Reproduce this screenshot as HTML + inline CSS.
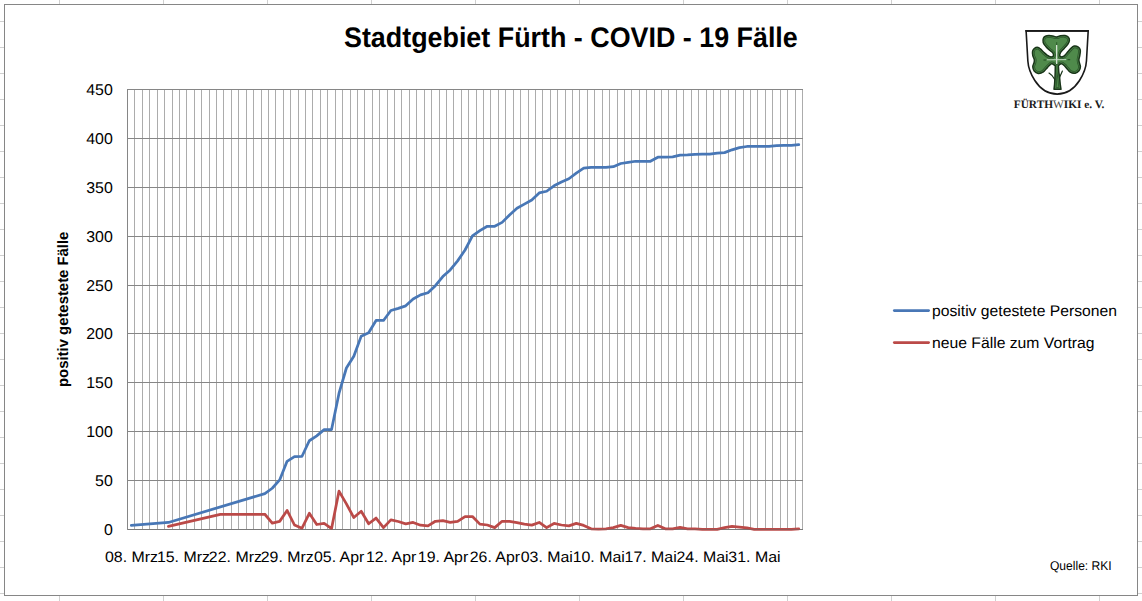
<!DOCTYPE html>
<html><head><meta charset="utf-8"><style>
html,body{margin:0;padding:0;background:#fff;}
body{width:1142px;height:601px;overflow:hidden;position:relative;font-family:"Liberation Sans",sans-serif;}
svg{position:absolute;left:0;top:0;}
</style></head><body>
<svg width="1142" height="601" viewBox="0 0 1142 601" font-family="'Liberation Sans', sans-serif" text-rendering="geometricPrecision">
<g stroke="#d0d0d0" stroke-width="1"><line x1="59.5" y1="0" x2="59.5" y2="601" /><line x1="163.5" y1="0" x2="163.5" y2="601" /><line x1="267.5" y1="0" x2="267.5" y2="601" /><line x1="371.5" y1="0" x2="371.5" y2="601" /><line x1="475.5" y1="0" x2="475.5" y2="601" /><line x1="579.5" y1="0" x2="579.5" y2="601" /><line x1="683.5" y1="0" x2="683.5" y2="601" /><line x1="787.5" y1="0" x2="787.5" y2="601" /><line x1="891.5" y1="0" x2="891.5" y2="601" /><line x1="995.5" y1="0" x2="995.5" y2="601" /><line x1="1099.5" y1="0" x2="1099.5" y2="601" /><line x1="0" y1="21.5" x2="1142" y2="21.5" /><line x1="0" y1="47.5" x2="1142" y2="47.5" /><line x1="0" y1="73.5" x2="1142" y2="73.5" /><line x1="0" y1="99.5" x2="1142" y2="99.5" /><line x1="0" y1="125.5" x2="1142" y2="125.5" /><line x1="0" y1="151.5" x2="1142" y2="151.5" /><line x1="0" y1="177.5" x2="1142" y2="177.5" /><line x1="0" y1="203.5" x2="1142" y2="203.5" /><line x1="0" y1="229.5" x2="1142" y2="229.5" /><line x1="0" y1="255.5" x2="1142" y2="255.5" /><line x1="0" y1="281.5" x2="1142" y2="281.5" /><line x1="0" y1="307.5" x2="1142" y2="307.5" /><line x1="0" y1="333.5" x2="1142" y2="333.5" /><line x1="0" y1="359.5" x2="1142" y2="359.5" /><line x1="0" y1="385.5" x2="1142" y2="385.5" /><line x1="0" y1="411.5" x2="1142" y2="411.5" /><line x1="0" y1="437.5" x2="1142" y2="437.5" /><line x1="0" y1="463.5" x2="1142" y2="463.5" /><line x1="0" y1="489.5" x2="1142" y2="489.5" /><line x1="0" y1="515.5" x2="1142" y2="515.5" /><line x1="0" y1="541.5" x2="1142" y2="541.5" /><line x1="0" y1="567.5" x2="1142" y2="567.5" /><line x1="0" y1="593.5" x2="1142" y2="593.5" /></g>
<rect x="4.5" y="4.5" width="1133" height="591" fill="#fff" stroke="#868686" stroke-width="1"/>
<g stroke="#acacac" stroke-width="1"><line x1="134.5" y1="89" x2="134.5" y2="530" /><line x1="142.5" y1="89" x2="142.5" y2="530" /><line x1="149.5" y1="89" x2="149.5" y2="530" /><line x1="157.5" y1="89" x2="157.5" y2="530" /><line x1="164.5" y1="89" x2="164.5" y2="530" /><line x1="172.5" y1="89" x2="172.5" y2="530" /><line x1="179.5" y1="89" x2="179.5" y2="530" /><line x1="186.5" y1="89" x2="186.5" y2="530" /><line x1="194.5" y1="89" x2="194.5" y2="530" /><line x1="201.5" y1="89" x2="201.5" y2="530" /><line x1="209.5" y1="89" x2="209.5" y2="530" /><line x1="216.5" y1="89" x2="216.5" y2="530" /><line x1="223.5" y1="89" x2="223.5" y2="530" /><line x1="231.5" y1="89" x2="231.5" y2="530" /><line x1="238.5" y1="89" x2="238.5" y2="530" /><line x1="246.5" y1="89" x2="246.5" y2="530" /><line x1="253.5" y1="89" x2="253.5" y2="530" /><line x1="261.5" y1="89" x2="261.5" y2="530" /><line x1="268.5" y1="89" x2="268.5" y2="530" /><line x1="275.5" y1="89" x2="275.5" y2="530" /><line x1="283.5" y1="89" x2="283.5" y2="530" /><line x1="290.5" y1="89" x2="290.5" y2="530" /><line x1="298.5" y1="89" x2="298.5" y2="530" /><line x1="305.5" y1="89" x2="305.5" y2="530" /><line x1="312.5" y1="89" x2="312.5" y2="530" /><line x1="320.5" y1="89" x2="320.5" y2="530" /><line x1="327.5" y1="89" x2="327.5" y2="530" /><line x1="335.5" y1="89" x2="335.5" y2="530" /><line x1="342.5" y1="89" x2="342.5" y2="530" /><line x1="350.5" y1="89" x2="350.5" y2="530" /><line x1="357.5" y1="89" x2="357.5" y2="530" /><line x1="364.5" y1="89" x2="364.5" y2="530" /><line x1="372.5" y1="89" x2="372.5" y2="530" /><line x1="379.5" y1="89" x2="379.5" y2="530" /><line x1="387.5" y1="89" x2="387.5" y2="530" /><line x1="394.5" y1="89" x2="394.5" y2="530" /><line x1="401.5" y1="89" x2="401.5" y2="530" /><line x1="409.5" y1="89" x2="409.5" y2="530" /><line x1="416.5" y1="89" x2="416.5" y2="530" /><line x1="424.5" y1="89" x2="424.5" y2="530" /><line x1="431.5" y1="89" x2="431.5" y2="530" /><line x1="439.5" y1="89" x2="439.5" y2="530" /><line x1="446.5" y1="89" x2="446.5" y2="530" /><line x1="453.5" y1="89" x2="453.5" y2="530" /><line x1="461.5" y1="89" x2="461.5" y2="530" /><line x1="468.5" y1="89" x2="468.5" y2="530" /><line x1="476.5" y1="89" x2="476.5" y2="530" /><line x1="483.5" y1="89" x2="483.5" y2="530" /><line x1="490.5" y1="89" x2="490.5" y2="530" /><line x1="498.5" y1="89" x2="498.5" y2="530" /><line x1="505.5" y1="89" x2="505.5" y2="530" /><line x1="513.5" y1="89" x2="513.5" y2="530" /><line x1="520.5" y1="89" x2="520.5" y2="530" /><line x1="528.5" y1="89" x2="528.5" y2="530" /><line x1="535.5" y1="89" x2="535.5" y2="530" /><line x1="542.5" y1="89" x2="542.5" y2="530" /><line x1="550.5" y1="89" x2="550.5" y2="530" /><line x1="557.5" y1="89" x2="557.5" y2="530" /><line x1="565.5" y1="89" x2="565.5" y2="530" /><line x1="572.5" y1="89" x2="572.5" y2="530" /><line x1="579.5" y1="89" x2="579.5" y2="530" /><line x1="587.5" y1="89" x2="587.5" y2="530" /><line x1="594.5" y1="89" x2="594.5" y2="530" /><line x1="602.5" y1="89" x2="602.5" y2="530" /><line x1="609.5" y1="89" x2="609.5" y2="530" /><line x1="617.5" y1="89" x2="617.5" y2="530" /><line x1="624.5" y1="89" x2="624.5" y2="530" /><line x1="631.5" y1="89" x2="631.5" y2="530" /><line x1="639.5" y1="89" x2="639.5" y2="530" /><line x1="646.5" y1="89" x2="646.5" y2="530" /><line x1="654.5" y1="89" x2="654.5" y2="530" /><line x1="661.5" y1="89" x2="661.5" y2="530" /><line x1="668.5" y1="89" x2="668.5" y2="530" /><line x1="676.5" y1="89" x2="676.5" y2="530" /><line x1="683.5" y1="89" x2="683.5" y2="530" /><line x1="691.5" y1="89" x2="691.5" y2="530" /><line x1="698.5" y1="89" x2="698.5" y2="530" /><line x1="706.5" y1="89" x2="706.5" y2="530" /><line x1="713.5" y1="89" x2="713.5" y2="530" /><line x1="720.5" y1="89" x2="720.5" y2="530" /><line x1="728.5" y1="89" x2="728.5" y2="530" /><line x1="735.5" y1="89" x2="735.5" y2="530" /><line x1="743.5" y1="89" x2="743.5" y2="530" /><line x1="750.5" y1="89" x2="750.5" y2="530" /><line x1="757.5" y1="89" x2="757.5" y2="530" /><line x1="765.5" y1="89" x2="765.5" y2="530" /><line x1="772.5" y1="89" x2="772.5" y2="530" /><line x1="780.5" y1="89" x2="780.5" y2="530" /><line x1="787.5" y1="89" x2="787.5" y2="530" /><line x1="795.5" y1="89" x2="795.5" y2="530" /><line x1="802.5" y1="89" x2="802.5" y2="530" /></g>
<g stroke="#868686" stroke-width="1"><line x1="127" y1="480.5" x2="803" y2="480.5" /><line x1="127" y1="431.5" x2="803" y2="431.5" /><line x1="127" y1="382.5" x2="803" y2="382.5" /><line x1="127" y1="333.5" x2="803" y2="333.5" /><line x1="127" y1="285.5" x2="803" y2="285.5" /><line x1="127" y1="236.5" x2="803" y2="236.5" /><line x1="127" y1="187.5" x2="803" y2="187.5" /><line x1="127" y1="138.5" x2="803" y2="138.5" /><line x1="127" y1="89.5" x2="803" y2="89.5" /></g>
<path d="M127.5 89 V529.5 H803" fill="none" stroke="#868686" stroke-width="1"/>
<polyline points="131.35,525.39 168.43,522.46 264.83,493.62 272.24,488.24 279.66,479.93 287.08,461.36 294.49,456.67 301.91,456.47 309.32,440.73 316.74,435.85 324.15,429.59 331.57,429.59 338.98,393.42 346.40,368.00 353.81,356.27 361.23,336.14 368.65,332.81 376.06,320.49 383.48,320.49 390.89,310.52 398.31,308.37 405.72,305.83 413.14,298.99 420.55,294.88 427.97,292.73 435.39,285.69 442.80,276.60 450.22,269.95 457.63,260.86 465.05,250.01 472.46,235.84 479.88,230.66 487.29,226.26 494.71,226.26 502.12,222.35 509.54,214.92 516.96,208.27 524.37,204.17 531.79,199.96 539.20,192.92 546.62,191.26 554.03,185.79 561.45,182.07 568.86,178.75 576.28,173.08 583.70,168.19 591.11,167.31 598.53,167.31 605.94,167.31 613.36,166.72 620.77,163.50 628.19,162.42 635.60,161.25 643.02,161.25 650.44,161.25 657.85,157.24 665.27,157.05 672.68,156.85 680.10,155.09 687.51,154.90 694.93,154.31 702.34,154.11 709.76,154.11 717.17,153.14 724.59,152.65 732.01,149.81 739.42,147.56 746.84,146.49 754.25,146.49 761.67,146.49 769.08,146.29 776.50,145.51 783.91,145.32 791.33,145.32 798.75,144.73" fill="none" stroke="#4877b6" stroke-width="2.75" stroke-linejoin="round" stroke-linecap="round"/>
<polyline points="168.43,526.37 220.34,514.34 264.83,514.25 272.24,523.14 279.66,521.38 287.08,510.43 294.49,525.00 301.91,528.32 309.32,513.27 316.74,524.51 324.15,523.43 331.57,528.52 338.98,491.18 346.40,503.88 353.81,517.57 361.23,511.31 368.65,523.73 376.06,518.06 383.48,527.64 390.89,519.92 398.31,521.48 405.72,523.83 413.14,522.46 420.55,525.19 427.97,525.88 435.39,521.28 442.80,520.60 450.22,522.36 457.63,521.38 465.05,516.59 472.46,516.59 479.88,524.12 487.29,525.00 494.71,527.64 502.12,521.28 509.54,521.48 516.96,522.55 524.37,524.12 531.79,525.10 539.20,522.46 546.62,527.64 554.03,523.43 561.45,525.00 568.86,525.88 576.28,523.34 583.70,525.39 591.11,528.81 598.53,529.01 605.94,528.81 613.36,527.64 620.77,525.39 628.19,527.64 635.60,528.32 643.02,528.81 650.44,528.81 657.85,525.39 665.27,528.81 672.68,528.81 680.10,527.34 687.51,528.81 694.93,528.81 702.34,529.30 709.76,529.30 717.17,529.30 724.59,527.64 732.01,526.37 739.42,527.05 746.84,527.83 754.25,529.30 761.67,529.30 769.08,529.30 776.50,529.30 783.91,529.30 791.33,529.30 798.75,528.81" fill="none" stroke="#bb4a48" stroke-width="2.75" stroke-linejoin="round" stroke-linecap="round"/>
<line x1="127" y1="529.5" x2="803" y2="529.5" stroke="#6a6a6a" stroke-width="1" opacity="0.45"/>
<line x1="894.3" y1="310.6" x2="928.6" y2="310.6" stroke="#4877b6" stroke-width="2.75" stroke-linecap="round"/>
<line x1="894.3" y1="342.6" x2="928.6" y2="342.6" stroke="#bb4a48" stroke-width="2.75" stroke-linecap="round"/>
<g fill="#000"><text x="343.99" y="46.80" font-family='"Liberation Sans", sans-serif' font-weight="bold" font-size="28.30" textLength="453.77" lengthAdjust="spacingAndGlyphs" >Stadtgebiet Fürth - COVID - 19 Fälle</text>
<text x="103.93" y="535.00" font-size="15.60" textLength="8.85" lengthAdjust="spacingAndGlyphs">0</text>
<text x="95.09" y="486.00" font-size="15.60" textLength="17.70" lengthAdjust="spacingAndGlyphs">50</text>
<text x="86.26" y="437.00" font-size="15.60" textLength="26.55" lengthAdjust="spacingAndGlyphs">100</text>
<text x="86.26" y="388.00" font-size="15.60" textLength="26.55" lengthAdjust="spacingAndGlyphs">150</text>
<text x="86.26" y="339.00" font-size="15.60" textLength="26.55" lengthAdjust="spacingAndGlyphs">200</text>
<text x="86.26" y="291.00" font-size="15.60" textLength="26.55" lengthAdjust="spacingAndGlyphs">250</text>
<text x="86.26" y="242.00" font-size="15.60" textLength="26.55" lengthAdjust="spacingAndGlyphs">300</text>
<text x="86.26" y="193.00" font-size="15.60" textLength="26.55" lengthAdjust="spacingAndGlyphs">350</text>
<text x="86.26" y="144.00" font-size="15.60" textLength="26.55" lengthAdjust="spacingAndGlyphs">400</text>
<text x="86.26" y="95.00" font-size="15.60" textLength="26.55" lengthAdjust="spacingAndGlyphs">450</text>
<text x="105.04" y="562.00" font-family='"Liberation Sans", sans-serif' font-weight="normal" font-size="15.10" textLength="53.02" lengthAdjust="spacingAndGlyphs" >08. Mrz</text>
<text x="156.95" y="562.00" font-family='"Liberation Sans", sans-serif' font-weight="normal" font-size="15.10" textLength="53.02" lengthAdjust="spacingAndGlyphs" >15. Mrz</text>
<text x="208.86" y="562.00" font-family='"Liberation Sans", sans-serif' font-weight="normal" font-size="15.10" textLength="53.02" lengthAdjust="spacingAndGlyphs" >22. Mrz</text>
<text x="260.77" y="562.00" font-family='"Liberation Sans", sans-serif' font-weight="normal" font-size="15.10" textLength="53.02" lengthAdjust="spacingAndGlyphs" >29. Mrz</text>
<text x="313.99" y="562.00" font-family='"Liberation Sans", sans-serif' font-weight="normal" font-size="15.10" textLength="50.39" lengthAdjust="spacingAndGlyphs" >05. Apr</text>
<text x="365.90" y="562.00" font-family='"Liberation Sans", sans-serif' font-weight="normal" font-size="15.10" textLength="50.39" lengthAdjust="spacingAndGlyphs" >12. Apr</text>
<text x="417.80" y="562.00" font-family='"Liberation Sans", sans-serif' font-weight="normal" font-size="15.10" textLength="50.39" lengthAdjust="spacingAndGlyphs" >19. Apr</text>
<text x="469.71" y="562.00" font-family='"Liberation Sans", sans-serif' font-weight="normal" font-size="15.10" textLength="50.39" lengthAdjust="spacingAndGlyphs" >26. Apr</text>
<text x="520.74" y="562.00" font-family='"Liberation Sans", sans-serif' font-weight="normal" font-size="15.10" textLength="52.15" lengthAdjust="spacingAndGlyphs" >03. Mai</text>
<text x="572.65" y="562.00" font-family='"Liberation Sans", sans-serif' font-weight="normal" font-size="15.10" textLength="52.15" lengthAdjust="spacingAndGlyphs" >10. Mai</text>
<text x="624.56" y="562.00" font-family='"Liberation Sans", sans-serif' font-weight="normal" font-size="15.10" textLength="52.15" lengthAdjust="spacingAndGlyphs" >17. Mai</text>
<text x="676.47" y="562.00" font-family='"Liberation Sans", sans-serif' font-weight="normal" font-size="15.10" textLength="52.15" lengthAdjust="spacingAndGlyphs" >24. Mai</text>
<text x="728.38" y="562.00" font-family='"Liberation Sans", sans-serif' font-weight="normal" font-size="15.10" textLength="52.15" lengthAdjust="spacingAndGlyphs" >31. Mai</text>
<text x="931.98" y="315.80" font-family='"Liberation Sans", sans-serif' font-weight="normal" font-size="15.40" textLength="185.05" lengthAdjust="spacingAndGlyphs" >positiv getestete Personen</text>
<text x="931.98" y="347.80" font-family='"Liberation Sans", sans-serif' font-weight="normal" font-size="15.40" textLength="162.53" lengthAdjust="spacingAndGlyphs" >neue Fälle zum Vortrag</text>
<text x="1049.96" y="569.60" font-family='"Liberation Sans", sans-serif' font-weight="normal" font-size="12.70" textLength="61.77" lengthAdjust="spacingAndGlyphs" >Quelle: RKI</text>
<text transform="translate(68 386.97) rotate(-90)" x="0" y="0" font-weight="bold" font-size="15.00" textLength="155.33" lengthAdjust="spacingAndGlyphs">positiv getestete Fälle</text></g>
<g id="logo">
<path d="M1026.1 30.9 L1088.2 30.9 L1086.45 61 C1085.99 69 1078.1 94.1 1057.2 94.1 C1036.2 94.1 1028.31 69 1027.85 61 Z" fill="#fff" stroke="#1a1a1a" stroke-width="1.6" stroke-linejoin="miter"/>
<line x1="1025.4" y1="30.9" x2="1088.9" y2="30.9" stroke="#1a1a1a" stroke-width="1.9"/>
<defs><clipPath id="cl"><path d="M1053.20 56.30 C1053.68 55.64 1053.43 53.88 1052.84 52.88 C1052.25 51.88 1050.81 51.35 1049.64 50.28 C1048.47 49.21 1046.91 47.78 1045.84 46.48 C1044.77 45.18 1043.61 43.86 1043.20 42.50 C1042.79 41.14 1043.03 39.35 1043.40 38.30 C1043.77 37.25 1044.43 36.65 1045.40 36.20 C1046.37 35.75 1047.82 35.58 1049.20 35.60 C1050.58 35.62 1052.47 36.08 1053.70 36.30 C1054.93 36.52 1055.47 37.00 1056.60 36.90 C1057.73 36.80 1059.10 35.93 1060.50 35.70 C1061.90 35.47 1063.68 35.23 1065.00 35.50 C1066.32 35.77 1067.67 36.47 1068.40 37.30 C1069.13 38.13 1069.51 39.34 1069.40 40.50 C1069.29 41.66 1068.67 42.92 1067.76 44.28 C1066.85 45.64 1065.18 47.28 1063.96 48.68 C1062.74 50.08 1061.12 51.41 1060.46 52.68 C1059.80 53.95 1059.54 55.66 1060.00 56.30 C1060.46 56.94 1062.13 57.02 1063.24 56.52 C1064.35 56.02 1065.36 54.69 1066.64 53.32 C1067.92 51.95 1069.70 49.52 1070.94 48.32 C1072.18 47.12 1072.92 46.34 1074.10 46.10 C1075.28 45.86 1076.97 46.23 1078.00 46.90 C1079.03 47.57 1080.00 48.68 1080.30 50.10 C1080.60 51.52 1080.03 53.83 1079.80 55.40 C1079.57 56.97 1078.98 58.32 1078.90 59.50 C1078.82 60.68 1079.05 61.32 1079.30 62.50 C1079.55 63.68 1080.45 65.22 1080.40 66.60 C1080.35 67.98 1079.87 69.70 1079.00 70.80 C1078.13 71.90 1076.67 72.97 1075.20 73.20 C1073.73 73.43 1071.60 72.98 1070.20 72.20 C1068.80 71.42 1067.80 69.62 1066.80 68.50 C1065.80 67.38 1065.13 66.28 1064.20 65.50 C1063.27 64.72 1062.17 63.75 1061.20 63.80 C1060.23 63.85 1058.40 65.80 1058.40 65.80 L1058.80 72.00 L1059.60 77.40 L1060.20 84.00 L1061.00 89.30 L1054.00 89.30 L1054.60 84.00 L1054.90 79.00 L1055.20 72.00 L1055.30 65.80 C1055.30 65.80 1052.85 63.80 1051.80 63.80 C1050.75 63.80 1049.88 65.02 1049.00 65.80 C1048.12 66.58 1047.50 67.43 1046.50 68.50 C1045.50 69.57 1044.38 71.38 1043.00 72.20 C1041.62 73.02 1039.67 73.60 1038.20 73.40 C1036.73 73.20 1035.10 72.13 1034.20 71.00 C1033.30 69.87 1032.82 68.02 1032.80 66.60 C1032.78 65.18 1033.85 63.68 1034.10 62.50 C1034.35 61.32 1034.52 60.65 1034.30 59.50 C1034.08 58.35 1033.08 56.98 1032.80 55.60 C1032.52 54.22 1032.32 52.42 1032.60 51.20 C1032.88 49.98 1033.62 48.93 1034.50 48.30 C1035.38 47.67 1036.92 47.30 1037.90 47.40 C1038.88 47.50 1039.33 48.07 1040.36 48.92 C1041.39 49.77 1042.94 51.49 1044.06 52.52 C1045.18 53.55 1046.08 54.40 1047.06 55.12 C1048.04 55.84 1048.94 56.62 1049.96 56.82 C1050.98 57.02 1052.72 56.96 1053.20 56.30 Z"/></clipPath></defs><path d="M1053.20 56.30 C1053.68 55.64 1053.43 53.88 1052.84 52.88 C1052.25 51.88 1050.81 51.35 1049.64 50.28 C1048.47 49.21 1046.91 47.78 1045.84 46.48 C1044.77 45.18 1043.61 43.86 1043.20 42.50 C1042.79 41.14 1043.03 39.35 1043.40 38.30 C1043.77 37.25 1044.43 36.65 1045.40 36.20 C1046.37 35.75 1047.82 35.58 1049.20 35.60 C1050.58 35.62 1052.47 36.08 1053.70 36.30 C1054.93 36.52 1055.47 37.00 1056.60 36.90 C1057.73 36.80 1059.10 35.93 1060.50 35.70 C1061.90 35.47 1063.68 35.23 1065.00 35.50 C1066.32 35.77 1067.67 36.47 1068.40 37.30 C1069.13 38.13 1069.51 39.34 1069.40 40.50 C1069.29 41.66 1068.67 42.92 1067.76 44.28 C1066.85 45.64 1065.18 47.28 1063.96 48.68 C1062.74 50.08 1061.12 51.41 1060.46 52.68 C1059.80 53.95 1059.54 55.66 1060.00 56.30 C1060.46 56.94 1062.13 57.02 1063.24 56.52 C1064.35 56.02 1065.36 54.69 1066.64 53.32 C1067.92 51.95 1069.70 49.52 1070.94 48.32 C1072.18 47.12 1072.92 46.34 1074.10 46.10 C1075.28 45.86 1076.97 46.23 1078.00 46.90 C1079.03 47.57 1080.00 48.68 1080.30 50.10 C1080.60 51.52 1080.03 53.83 1079.80 55.40 C1079.57 56.97 1078.98 58.32 1078.90 59.50 C1078.82 60.68 1079.05 61.32 1079.30 62.50 C1079.55 63.68 1080.45 65.22 1080.40 66.60 C1080.35 67.98 1079.87 69.70 1079.00 70.80 C1078.13 71.90 1076.67 72.97 1075.20 73.20 C1073.73 73.43 1071.60 72.98 1070.20 72.20 C1068.80 71.42 1067.80 69.62 1066.80 68.50 C1065.80 67.38 1065.13 66.28 1064.20 65.50 C1063.27 64.72 1062.17 63.75 1061.20 63.80 C1060.23 63.85 1058.40 65.80 1058.40 65.80 L1058.80 72.00 L1059.60 77.40 L1060.20 84.00 L1061.00 89.30 L1054.00 89.30 L1054.60 84.00 L1054.90 79.00 L1055.20 72.00 L1055.30 65.80 C1055.30 65.80 1052.85 63.80 1051.80 63.80 C1050.75 63.80 1049.88 65.02 1049.00 65.80 C1048.12 66.58 1047.50 67.43 1046.50 68.50 C1045.50 69.57 1044.38 71.38 1043.00 72.20 C1041.62 73.02 1039.67 73.60 1038.20 73.40 C1036.73 73.20 1035.10 72.13 1034.20 71.00 C1033.30 69.87 1032.82 68.02 1032.80 66.60 C1032.78 65.18 1033.85 63.68 1034.10 62.50 C1034.35 61.32 1034.52 60.65 1034.30 59.50 C1034.08 58.35 1033.08 56.98 1032.80 55.60 C1032.52 54.22 1032.32 52.42 1032.60 51.20 C1032.88 49.98 1033.62 48.93 1034.50 48.30 C1035.38 47.67 1036.92 47.30 1037.90 47.40 C1038.88 47.50 1039.33 48.07 1040.36 48.92 C1041.39 49.77 1042.94 51.49 1044.06 52.52 C1045.18 53.55 1046.08 54.40 1047.06 55.12 C1048.04 55.84 1048.94 56.62 1049.96 56.82 C1050.98 57.02 1052.72 56.96 1053.20 56.30 Z" fill="#4f8a4b"/><g clip-path="url(#cl)"><path d="M1053.20 56.30 C1053.68 55.64 1053.43 53.88 1052.84 52.88 C1052.25 51.88 1050.81 51.35 1049.64 50.28 C1048.47 49.21 1046.91 47.78 1045.84 46.48 C1044.77 45.18 1043.61 43.86 1043.20 42.50 C1042.79 41.14 1043.03 39.35 1043.40 38.30 C1043.77 37.25 1044.43 36.65 1045.40 36.20 C1046.37 35.75 1047.82 35.58 1049.20 35.60 C1050.58 35.62 1052.47 36.08 1053.70 36.30 C1054.93 36.52 1055.47 37.00 1056.60 36.90 C1057.73 36.80 1059.10 35.93 1060.50 35.70 C1061.90 35.47 1063.68 35.23 1065.00 35.50 C1066.32 35.77 1067.67 36.47 1068.40 37.30 C1069.13 38.13 1069.51 39.34 1069.40 40.50 C1069.29 41.66 1068.67 42.92 1067.76 44.28 C1066.85 45.64 1065.18 47.28 1063.96 48.68 C1062.74 50.08 1061.12 51.41 1060.46 52.68 C1059.80 53.95 1059.54 55.66 1060.00 56.30 C1060.46 56.94 1062.13 57.02 1063.24 56.52 C1064.35 56.02 1065.36 54.69 1066.64 53.32 C1067.92 51.95 1069.70 49.52 1070.94 48.32 C1072.18 47.12 1072.92 46.34 1074.10 46.10 C1075.28 45.86 1076.97 46.23 1078.00 46.90 C1079.03 47.57 1080.00 48.68 1080.30 50.10 C1080.60 51.52 1080.03 53.83 1079.80 55.40 C1079.57 56.97 1078.98 58.32 1078.90 59.50 C1078.82 60.68 1079.05 61.32 1079.30 62.50 C1079.55 63.68 1080.45 65.22 1080.40 66.60 C1080.35 67.98 1079.87 69.70 1079.00 70.80 C1078.13 71.90 1076.67 72.97 1075.20 73.20 C1073.73 73.43 1071.60 72.98 1070.20 72.20 C1068.80 71.42 1067.80 69.62 1066.80 68.50 C1065.80 67.38 1065.13 66.28 1064.20 65.50 C1063.27 64.72 1062.17 63.75 1061.20 63.80 C1060.23 63.85 1058.40 65.80 1058.40 65.80 L1058.80 72.00 L1059.60 77.40 L1060.20 84.00 L1061.00 89.30 L1054.00 89.30 L1054.60 84.00 L1054.90 79.00 L1055.20 72.00 L1055.30 65.80 C1055.30 65.80 1052.85 63.80 1051.80 63.80 C1050.75 63.80 1049.88 65.02 1049.00 65.80 C1048.12 66.58 1047.50 67.43 1046.50 68.50 C1045.50 69.57 1044.38 71.38 1043.00 72.20 C1041.62 73.02 1039.67 73.60 1038.20 73.40 C1036.73 73.20 1035.10 72.13 1034.20 71.00 C1033.30 69.87 1032.82 68.02 1032.80 66.60 C1032.78 65.18 1033.85 63.68 1034.10 62.50 C1034.35 61.32 1034.52 60.65 1034.30 59.50 C1034.08 58.35 1033.08 56.98 1032.80 55.60 C1032.52 54.22 1032.32 52.42 1032.60 51.20 C1032.88 49.98 1033.62 48.93 1034.50 48.30 C1035.38 47.67 1036.92 47.30 1037.90 47.40 C1038.88 47.50 1039.33 48.07 1040.36 48.92 C1041.39 49.77 1042.94 51.49 1044.06 52.52 C1045.18 53.55 1046.08 54.40 1047.06 55.12 C1048.04 55.84 1048.94 56.62 1049.96 56.82 C1050.98 57.02 1052.72 56.96 1053.20 56.30 Z" fill="none" stroke="#2c552c" stroke-width="4.4" stroke-linejoin="round"/><path d="M1053.20 56.30 C1053.68 55.64 1053.43 53.88 1052.84 52.88 C1052.25 51.88 1050.81 51.35 1049.64 50.28 C1048.47 49.21 1046.91 47.78 1045.84 46.48 C1044.77 45.18 1043.61 43.86 1043.20 42.50 C1042.79 41.14 1043.03 39.35 1043.40 38.30 C1043.77 37.25 1044.43 36.65 1045.40 36.20 C1046.37 35.75 1047.82 35.58 1049.20 35.60 C1050.58 35.62 1052.47 36.08 1053.70 36.30 C1054.93 36.52 1055.47 37.00 1056.60 36.90 C1057.73 36.80 1059.10 35.93 1060.50 35.70 C1061.90 35.47 1063.68 35.23 1065.00 35.50 C1066.32 35.77 1067.67 36.47 1068.40 37.30 C1069.13 38.13 1069.51 39.34 1069.40 40.50 C1069.29 41.66 1068.67 42.92 1067.76 44.28 C1066.85 45.64 1065.18 47.28 1063.96 48.68 C1062.74 50.08 1061.12 51.41 1060.46 52.68 C1059.80 53.95 1059.54 55.66 1060.00 56.30 C1060.46 56.94 1062.13 57.02 1063.24 56.52 C1064.35 56.02 1065.36 54.69 1066.64 53.32 C1067.92 51.95 1069.70 49.52 1070.94 48.32 C1072.18 47.12 1072.92 46.34 1074.10 46.10 C1075.28 45.86 1076.97 46.23 1078.00 46.90 C1079.03 47.57 1080.00 48.68 1080.30 50.10 C1080.60 51.52 1080.03 53.83 1079.80 55.40 C1079.57 56.97 1078.98 58.32 1078.90 59.50 C1078.82 60.68 1079.05 61.32 1079.30 62.50 C1079.55 63.68 1080.45 65.22 1080.40 66.60 C1080.35 67.98 1079.87 69.70 1079.00 70.80 C1078.13 71.90 1076.67 72.97 1075.20 73.20 C1073.73 73.43 1071.60 72.98 1070.20 72.20 C1068.80 71.42 1067.80 69.62 1066.80 68.50 C1065.80 67.38 1065.13 66.28 1064.20 65.50 C1063.27 64.72 1062.17 63.75 1061.20 63.80 C1060.23 63.85 1058.40 65.80 1058.40 65.80 L1058.80 72.00 L1059.60 77.40 L1060.20 84.00 L1061.00 89.30 L1054.00 89.30 L1054.60 84.00 L1054.90 79.00 L1055.20 72.00 L1055.30 65.80 C1055.30 65.80 1052.85 63.80 1051.80 63.80 C1050.75 63.80 1049.88 65.02 1049.00 65.80 C1048.12 66.58 1047.50 67.43 1046.50 68.50 C1045.50 69.57 1044.38 71.38 1043.00 72.20 C1041.62 73.02 1039.67 73.60 1038.20 73.40 C1036.73 73.20 1035.10 72.13 1034.20 71.00 C1033.30 69.87 1032.82 68.02 1032.80 66.60 C1032.78 65.18 1033.85 63.68 1034.10 62.50 C1034.35 61.32 1034.52 60.65 1034.30 59.50 C1034.08 58.35 1033.08 56.98 1032.80 55.60 C1032.52 54.22 1032.32 52.42 1032.60 51.20 C1032.88 49.98 1033.62 48.93 1034.50 48.30 C1035.38 47.67 1036.92 47.30 1037.90 47.40 C1038.88 47.50 1039.33 48.07 1040.36 48.92 C1041.39 49.77 1042.94 51.49 1044.06 52.52 C1045.18 53.55 1046.08 54.40 1047.06 55.12 C1048.04 55.84 1048.94 56.62 1049.96 56.82 C1050.98 57.02 1052.72 56.96 1053.20 56.30 Z" fill="none" stroke="#4a8446" stroke-width="2.9" stroke-linejoin="round"/></g><path d="M1053.20 56.30 C1053.68 55.64 1053.43 53.88 1052.84 52.88 C1052.25 51.88 1050.81 51.35 1049.64 50.28 C1048.47 49.21 1046.91 47.78 1045.84 46.48 C1044.77 45.18 1043.61 43.86 1043.20 42.50 C1042.79 41.14 1043.03 39.35 1043.40 38.30 C1043.77 37.25 1044.43 36.65 1045.40 36.20 C1046.37 35.75 1047.82 35.58 1049.20 35.60 C1050.58 35.62 1052.47 36.08 1053.70 36.30 C1054.93 36.52 1055.47 37.00 1056.60 36.90 C1057.73 36.80 1059.10 35.93 1060.50 35.70 C1061.90 35.47 1063.68 35.23 1065.00 35.50 C1066.32 35.77 1067.67 36.47 1068.40 37.30 C1069.13 38.13 1069.51 39.34 1069.40 40.50 C1069.29 41.66 1068.67 42.92 1067.76 44.28 C1066.85 45.64 1065.18 47.28 1063.96 48.68 C1062.74 50.08 1061.12 51.41 1060.46 52.68 C1059.80 53.95 1059.54 55.66 1060.00 56.30 C1060.46 56.94 1062.13 57.02 1063.24 56.52 C1064.35 56.02 1065.36 54.69 1066.64 53.32 C1067.92 51.95 1069.70 49.52 1070.94 48.32 C1072.18 47.12 1072.92 46.34 1074.10 46.10 C1075.28 45.86 1076.97 46.23 1078.00 46.90 C1079.03 47.57 1080.00 48.68 1080.30 50.10 C1080.60 51.52 1080.03 53.83 1079.80 55.40 C1079.57 56.97 1078.98 58.32 1078.90 59.50 C1078.82 60.68 1079.05 61.32 1079.30 62.50 C1079.55 63.68 1080.45 65.22 1080.40 66.60 C1080.35 67.98 1079.87 69.70 1079.00 70.80 C1078.13 71.90 1076.67 72.97 1075.20 73.20 C1073.73 73.43 1071.60 72.98 1070.20 72.20 C1068.80 71.42 1067.80 69.62 1066.80 68.50 C1065.80 67.38 1065.13 66.28 1064.20 65.50 C1063.27 64.72 1062.17 63.75 1061.20 63.80 C1060.23 63.85 1058.40 65.80 1058.40 65.80 L1058.80 72.00 L1059.60 77.40 L1060.20 84.00 L1061.00 89.30 L1054.00 89.30 L1054.60 84.00 L1054.90 79.00 L1055.20 72.00 L1055.30 65.80 C1055.30 65.80 1052.85 63.80 1051.80 63.80 C1050.75 63.80 1049.88 65.02 1049.00 65.80 C1048.12 66.58 1047.50 67.43 1046.50 68.50 C1045.50 69.57 1044.38 71.38 1043.00 72.20 C1041.62 73.02 1039.67 73.60 1038.20 73.40 C1036.73 73.20 1035.10 72.13 1034.20 71.00 C1033.30 69.87 1032.82 68.02 1032.80 66.60 C1032.78 65.18 1033.85 63.68 1034.10 62.50 C1034.35 61.32 1034.52 60.65 1034.30 59.50 C1034.08 58.35 1033.08 56.98 1032.80 55.60 C1032.52 54.22 1032.32 52.42 1032.60 51.20 C1032.88 49.98 1033.62 48.93 1034.50 48.30 C1035.38 47.67 1036.92 47.30 1037.90 47.40 C1038.88 47.50 1039.33 48.07 1040.36 48.92 C1041.39 49.77 1042.94 51.49 1044.06 52.52 C1045.18 53.55 1046.08 54.40 1047.06 55.12 C1048.04 55.84 1048.94 56.62 1049.96 56.82 C1050.98 57.02 1052.72 56.96 1053.20 56.30 Z" fill="none" stroke="#1a361a" stroke-width="1.5" stroke-linejoin="round"/><path d="M1054.8 79.5 Q1052.5 75.2 1049 73.1" fill="none" stroke="#1a361a" stroke-width="1.2" stroke-linecap="round"/><path d="M1059.5 77.6 Q1061.2 74 1062.4 71.1" fill="none" stroke="#1a361a" stroke-width="1.2" stroke-linecap="round"/><line x1="1056.7" y1="42.2" x2="1056.7" y2="45.5" stroke="#2a5a2a" stroke-width="1"/><line x1="1056.7" y1="45" x2="1056.7" y2="64" stroke="#eef4ee" stroke-width="1.1"/><line x1="1047" y1="59.8" x2="1066.2" y2="59.6" stroke="#c8dcc8" stroke-width="0.9"/><line x1="1043.5" y1="60" x2="1046" y2="60" stroke="#1e4a1e" stroke-width="1"/><line x1="1067.5" y1="59.7" x2="1070.2" y2="59.7" stroke="#1e4a1e" stroke-width="1"/></g>
<text x="1013.73" y="107.80" font-family='"Liberation Serif", serif' font-weight="bold" font-size="11.30" textLength="90.68" lengthAdjust="spacingAndGlyphs" fill="#1a1a1a">FÜRTH<tspan font-weight="normal" fill="#444">W</tspan>IKI e. V.</text>
</svg>
</body></html>
